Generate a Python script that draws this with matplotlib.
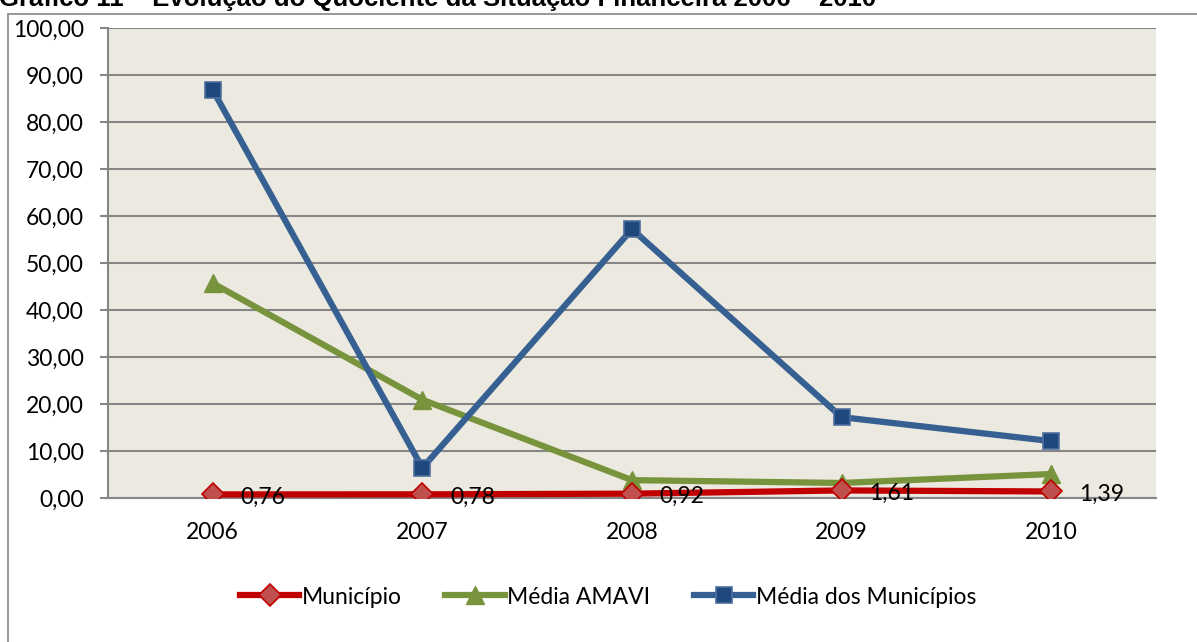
import matplotlib
matplotlib.use("Agg")
import matplotlib.pyplot as plt
from matplotlib.patches import Rectangle
from matplotlib.ticker import FuncFormatter

years = ["2006", "2007", "2008", "2009", "2010"]
municipio = [0.76, 0.78, 0.92, 1.61, 1.39]
media_amavi = [45.7, 20.9, 3.8, 3.2, 5.1]
media_municipios = [86.8, 6.4, 57.2, 17.2, 12.1]
municipio_labels = ["0,76", "0,78", "0,92", "1,61", "1,39"]

W, H = 1197, 642
FS = 16.5
fig = plt.figure(figsize=(W / 100, H / 100), dpi=100)
fig.patch.set_facecolor("white")

# outer chart border (extends past right and bottom edge)
fig.patches.append(Rectangle((8 / W, -0.1), 1.2, 1 - 14 / H + 0.1,
                             transform=fig.transFigure, fill=False,
                             edgecolor="#868686", linewidth=1.2))

# clipped title
fig.text(-1 / W, 1 - 6 / H, "Gráfico 11 – Evolução do Quociente da Situação Financeira 2006 – 2010",
         ha="left", va="baseline", fontsize=18.5, fontweight="bold",
         family="Liberation Sans", color="black")

left, right, top, bottom = 108, 1156, 28, 498
ax = fig.add_axes([left / W, 1 - bottom / H, (right - left) / W, (bottom - top) / H])
ax.set_facecolor("#ECEAE0")

x = list(range(len(years)))
ax.plot(x, municipio, color="#C00000", lw=4.5, marker="D", ms=11,
        mfc="#C0504D", mec="#C00000", mew=1.2, zorder=5, label="Município")
ax.plot(x, media_amavi, color="#77933C", lw=4.5, marker="^", ms=13,
        mfc="#77933C", mec="#77933C", zorder=4, label="Média AMAVI")
ax.plot(x, media_municipios, color="#366092", lw=4.5, marker="s", ms=11,
        mfc="#1F497D", mec="#4F6F9F", mew=1.2, zorder=4, label="Média dos Municípios")

for xi, yi, lab in zip(x, municipio, municipio_labels):
    ax.annotate(lab, (xi, yi), xytext=(20, -2), textcoords="offset points",
                ha="left", va="center", fontsize=FS, family="Lato", color="black",
                zorder=6)

ax.set_xlim(-0.5, 4.5)
ax.set_ylim(0, 100)
ax.set_yticks(range(0, 101, 10))
ax.yaxis.set_major_formatter(FuncFormatter(lambda v, p: f"{v:.2f}".replace(".", ",")))
ax.set_xticks(x)
ax.set_xticklabels(years)
ax.grid(axis="y", color="#868686", lw=1.5)
ax.set_axisbelow(True)
for s in ["top", "right"]:
    ax.spines[s].set_visible(False)
for s in ["left", "bottom"]:
    ax.spines[s].set_color("#868686")
    ax.spines[s].set_linewidth(1.5)
ax.tick_params(axis="y", length=5.5, width=1.5, color="#868686", labelsize=FS, pad=12)
ax.tick_params(axis="x", length=0, labelsize=FS, pad=17)
for lab in ax.get_xticklabels() + ax.get_yticklabels():
    lab.set_family("Lato")

leg = fig.legend(loc="center", bbox_to_anchor=(608 / W, 1 - 597 / H), ncol=3,
                 frameon=False, prop={"family": "Lato", "size": FS},
                 handlelength=2.6, handletextpad=0.1, columnspacing=1.9)

fig.savefig("out.png", dpi=100)
